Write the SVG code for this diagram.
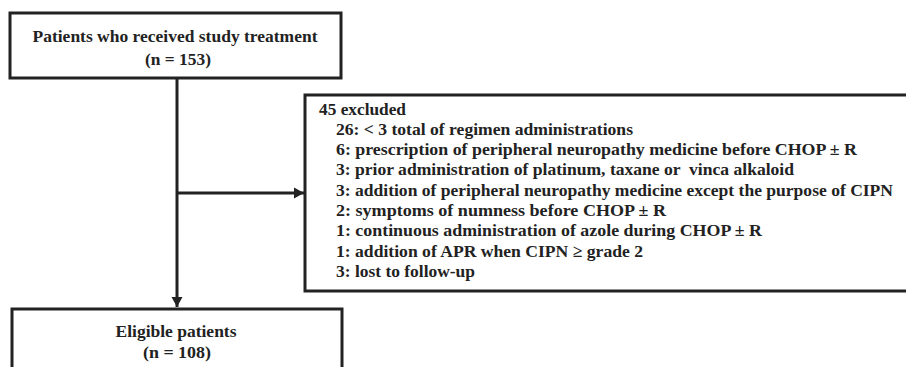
<svg xmlns="http://www.w3.org/2000/svg" width="906" height="367" viewBox="0 0 906 367">
<style>
.box{fill:#fff;stroke:#222;stroke-width:3}
.t{font-family:"Liberation Serif","Times New Roman",serif;font-weight:bold;font-size:17.5px;fill:#222}
.c{text-anchor:middle}
.ln{stroke:#222;stroke-width:3;fill:none}
</style>
<defs>
<marker id="ah" markerUnits="userSpaceOnUse" markerWidth="12" markerHeight="12" refX="10" refY="6" orient="auto">
<path d="M0,0.5 L10,6 L0,11.5 Z" fill="#222"/>
</marker>
</defs>
<rect width="906" height="367" fill="#fff"/>
<g id="connectors">
<line class="ln" x1="177" y1="78" x2="177" y2="307" marker-end="url(#ah)"/>
<line class="ln" x1="177" y1="193" x2="304" y2="193" marker-end="url(#ah)"/>
</g>
<g id="node-top">
<rect class="box" x="10" y="13" width="331" height="65"/>
<text class="t c" x="175" y="42" textLength="285" lengthAdjust="spacingAndGlyphs">Patients who received study treatment</text>
<text class="t c" x="178" y="65" textLength="66" lengthAdjust="spacingAndGlyphs">(n = 153)</text>
</g>
<g id="node-excluded">
<rect class="box" x="305" y="95" width="700" height="196"/>
<text class="t" x="319" y="115" textLength="87" lengthAdjust="spacingAndGlyphs">45 excluded</text>
<text class="t" x="336" y="135" textLength="297" lengthAdjust="spacingAndGlyphs">26: &lt; 3 total of regimen administrations</text>
<text class="t" x="336" y="155" textLength="521" lengthAdjust="spacingAndGlyphs">6: prescription of peripheral neuropathy medicine before CHOP ± R</text>
<text class="t" x="336" y="175" textLength="458" lengthAdjust="spacingAndGlyphs">3: prior administration of platinum, taxane or &#160;vinca alkaloid</text>
<text class="t" x="336" y="196" textLength="557" lengthAdjust="spacingAndGlyphs">3: addition of peripheral neuropathy medicine except the purpose of CIPN</text>
<text class="t" x="336" y="216" textLength="330" lengthAdjust="spacingAndGlyphs">2: symptoms of numness before CHOP ± R</text>
<text class="t" x="336" y="236" textLength="426" lengthAdjust="spacingAndGlyphs">1: continuous administration of azole during CHOP ± R</text>
<text class="t" x="336" y="257" textLength="307" lengthAdjust="spacingAndGlyphs">1: addition of APR when CIPN ≥ grade 2</text>
<text class="t" x="336" y="277" textLength="139" lengthAdjust="spacingAndGlyphs">3: lost to follow-up</text>
</g>
<g id="node-eligible">
<rect class="box" x="12" y="309" width="330" height="80"/>
<text class="t c" x="176" y="337" textLength="121" lengthAdjust="spacingAndGlyphs">Eligible patients</text>
<text class="t c" x="177" y="358" textLength="68" lengthAdjust="spacingAndGlyphs">(n = 108)</text>
</g>
</svg>
